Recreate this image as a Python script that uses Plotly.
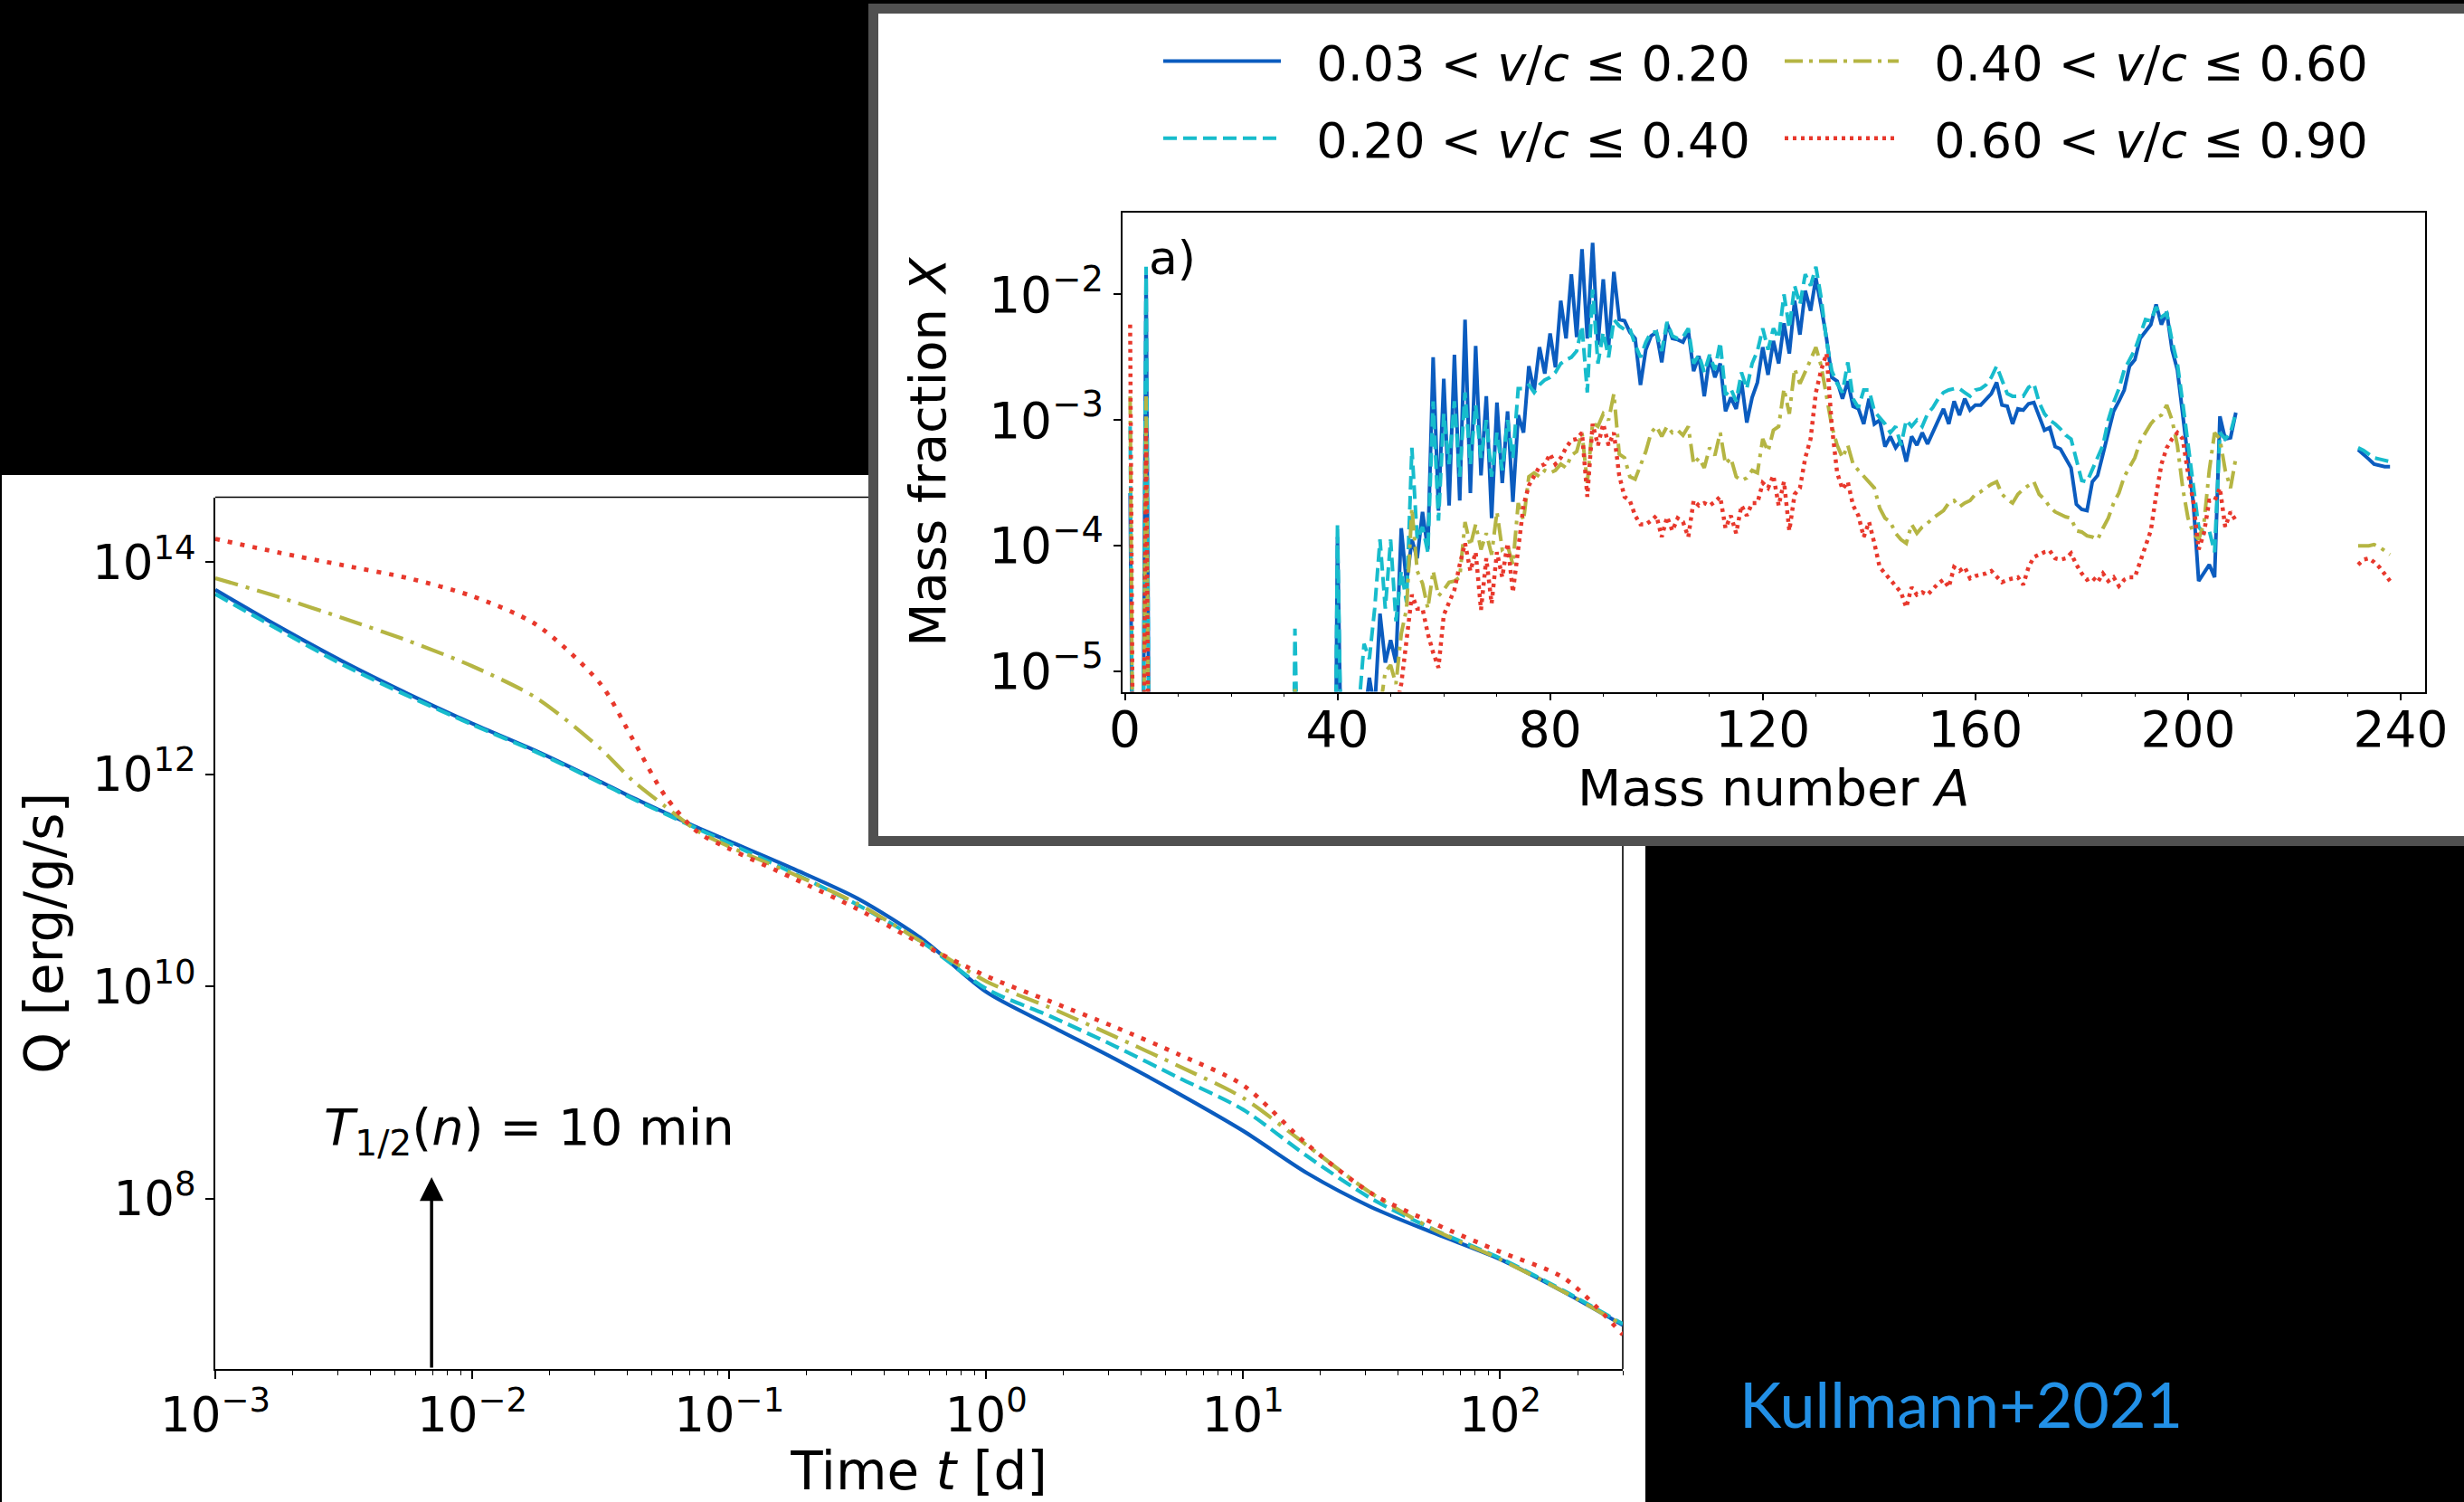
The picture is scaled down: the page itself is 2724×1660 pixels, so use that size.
import math
import plotly.graph_objects as go

W, H = 2724, 1660

# ---------------- lower panel: heating rate Q(t) ----------------
log_t_days = [-3.0, -2.75, -2.5, -2.25, -2.0, -1.75, -1.5, -1.375, -1.25, -1.125, -1.0, -0.75,
              -0.5, -0.25, 0.0, 0.25, 0.5, 0.75, 1.0, 1.25, 1.5, 1.75, 2.0, 2.25, 2.477]
logQ_v003_020 = [13.74, 13.39, 13.06, 12.76, 12.48, 12.22, 11.93, 11.78, 11.64, 11.50, 11.37, 11.11,
                 10.83, 10.45, 9.95, 9.63, 9.32, 8.99, 8.64, 8.24, 7.92, 7.67, 7.43, 7.12, 6.81]
logQ_v020_040 = [13.70, 13.36, 13.03, 12.74, 12.47, 12.21, 11.92, 11.77, 11.63, 11.49, 11.35, 11.07,
                 10.77, 10.42, 9.98, 9.72, 9.44, 9.14, 8.84, 8.40, 8.00, 7.70, 7.44, 7.13, 6.82]
logQ_v040_060 = [13.85, 13.67, 13.47, 13.26, 13.02, 12.72, 12.24, 11.94, 11.70, 11.47, 11.32, 11.06,
                 10.78, 10.42, 10.05, 9.80, 9.53, 9.25, 8.95, 8.50, 8.05, 7.70, 7.43, 7.12, 6.81]
logQ_v060_090 = [14.22, 14.09, 13.97, 13.85, 13.68, 13.41, 12.85, 12.33, 11.80, 11.46, 11.30, 11.02,
                 10.73, 10.40, 10.10, 9.86, 9.62, 9.36, 9.07, 8.51, 8.05, 7.76, 7.50, 7.25, 6.72]

neutron_half_life_min = 10.0
arrow_tip_Q = 1.6e8

# ---------------- upper panel: mass fractions X(A) ----------------
A_main = list(range(1, 210))
A_tail = list(range(232, 239))

logX_v003_020 = [
    -3.58, -9, -9, -1.79, -9, -9, -9, -9, -9, -9,
    -9, -9, -9, -9, -9, -9, -9, -9, -9, -9,
    -9, -9, -9, -9, -9, -9, -9, -9, -9, -9,
    -9, -5.10, -9, -9, -9, -9, -9, -9, -9, -3.93,
    -9, -9, -9, -9, -5.4, -5.05, -5.3, -4.54, -4.93, -4.75,
    -4.93, -3.86, -4.3, -3.95, -4.1, -3.73, -4.03, -2.50, -3.72, -2.67,
    -3.68, -2.48, -3.64, -2.20, -3.58, -2.41, -3.44, -2.81, -3.78, -2.86,
    -3.50, -2.93, -3.65, -2.96, -3.10, -2.57, -2.77, -2.42, -2.63, -2.31,
    -2.58, -2.05, -2.35, -1.84, -2.34, -1.64, -2.35, -1.59, -2.40, -1.88,
    -2.42, -1.82, -2.20, -2.21, -2.30, -2.35, -2.72, -2.44, -2.33, -2.30,
    -2.54, -2.23, -2.35, -2.36, -2.38, -2.29, -2.61, -2.49, -2.81, -2.50,
    -2.66, -2.55, -2.93, -2.82, -2.91, -2.69, -3.02, -2.82, -2.70, -2.42,
    -2.64, -2.37, -2.55, -2.23, -2.47, -2.05, -2.32, -1.97, -2.13, -1.87,
    -2.10, -2.35, -2.66, -2.69, -2.83, -2.69, -2.89, -2.91, -3.03, -2.83,
    -3.03, -3.00, -3.21, -3.13, -3.22, -3.16, -3.33, -3.13, -3.20, -3.10,
    -3.19, -3.10, -3.00, -2.91, -3.03, -2.85, -2.96, -2.83, -2.92, -2.88,
    -2.88, -2.83, -2.79, -2.70, -2.88, -2.89, -3.03, -2.91, -2.92, -2.87,
    -2.86, -2.97, -3.08, -3.06, -3.21, -3.23, -3.30, -3.38, -3.67, -3.71,
    -3.72, -3.49, -3.44, -3.27, -3.10, -2.93, -2.85, -2.76, -2.57, -2.52,
    -2.35, -2.30, -2.24, -2.08, -2.24, -2.14, -2.44, -2.60, -2.96, -3.30,
    -3.66, -4.28, -4.22, -4.15, -4.25, -2.97, -3.15, -3.14, -2.94,
]
logX_v020_040 = [
    -3.05, -9, -9, -1.78, -9, -9, -9, -9, -9, -9,
    -9, -9, -9, -9, -9, -9, -9, -9, -9, -9,
    -9, -9, -9, -9, -9, -9, -9, -9, -9, -9,
    -9, -4.66, -9, -9, -9, -9, -9, -9, -9, -3.83,
    -9, -9, -9, -5.3, -4.78, -4.9, -4.5, -3.95, -4.5, -3.95,
    -4.6, -4.2, -4.45, -3.22, -3.95, -3.85, -4.05, -2.85, -3.8, -2.95,
    -3.35, -2.85, -3.45, -2.78, -3.35, -2.88, -3.30, -3.00, -3.45, -3.10,
    -3.40, -3.00, -3.30, -2.75, -2.75, -2.72, -2.78, -2.72, -2.68, -2.66,
    -2.62, -2.55, -2.52, -2.50, -2.45, -2.25, -2.78, -1.96, -2.55, -2.30,
    -2.50, -2.20, -2.25, -2.28, -2.27, -2.40, -2.50, -2.38, -2.30, -2.30,
    -2.45, -2.22, -2.33, -2.35, -2.34, -2.27, -2.55, -2.48, -2.62, -2.48,
    -2.60, -2.38, -2.80, -2.75, -2.85, -2.62, -2.75, -2.55, -2.45, -2.27,
    -2.44, -2.27, -2.35, -2.00, -2.27, -1.93, -2.08, -1.84, -1.93, -1.78,
    -2.03, -2.37, -2.61, -2.71, -2.78, -2.54, -2.83, -2.90, -2.76, -2.76,
    -2.93, -2.98, -3.03, -3.10, -3.05, -3.20, -3.00, -3.05, -3.00, -3.05,
    -2.95, -2.90, -2.83, -2.78, -2.76, -2.75, -2.75, -2.78, -2.81, -2.76,
    -2.75, -2.72, -2.66, -2.57, -2.68, -2.79, -2.81, -2.81, -2.81, -2.74,
    -2.71, -2.86, -2.95, -3.00, -3.03, -3.07, -3.12, -3.15, -3.32, -3.48,
    -3.49, -3.39, -3.30, -3.20, -3.00, -2.86, -2.75, -2.60, -2.52, -2.44,
    -2.32, -2.20, -2.21, -2.10, -2.18, -2.15, -2.37, -2.55, -2.86, -3.17,
    -3.52, -3.85, -3.90, -3.88, -4.05, -3.10, -3.15, -3.10, -2.94,
]
logX_v040_060 = [
    -2.81, -9, -9, -2.81, -9, -9, -9, -9, -9, -9,
    -9, -9, -9, -9, -9, -9, -9, -9, -9, -9,
    -9, -9, -9, -9, -9, -9, -9, -9, -9, -9,
    -9, -5.14, -9, -9, -9, -9, -9, -9, -9, -9,
    -9, -9, -9, -9, -9, -9, -9, -5.3, -5.0, -4.95,
    -5.1, -4.7, -4.5, -3.70, -4.2, -4.3, -4.5, -4.2, -4.4, -4.35,
    -4.29, -4.28, -4.25, -3.81, -4.00, -3.83, -4.03, -3.90, -4.07, -3.73,
    -4.03, -4.00, -4.15, -3.66, -3.80, -3.45, -3.42, -3.45, -3.40, -3.42,
    -3.40, -3.35, -3.38, -3.28, -3.25, -3.10, -3.50, -3.02, -3.05, -2.95,
    -3.00, -2.79, -3.27, -3.30, -3.45, -3.47, -3.35, -3.25, -3.10, -3.05,
    -3.13, -3.05, -3.10, -3.08, -3.12, -3.05, -3.35, -3.30, -3.38, -3.22,
    -3.28, -3.10, -3.35, -3.30, -3.45, -3.48, -3.46, -3.40, -3.42, -3.15,
    -3.25, -3.08, -3.05, -2.75, -2.95, -2.59, -2.71, -2.62, -2.52, -2.42,
    -2.57, -2.81, -3.05, -3.20, -3.30, -3.20, -3.35, -3.40, -3.45, -3.49,
    -3.54, -3.70, -3.78, -3.81, -3.90, -3.95, -3.98, -3.83, -3.90, -3.85,
    -3.82, -3.78, -3.75, -3.72, -3.66, -3.64, -3.69, -3.66, -3.64, -3.59,
    -3.57, -3.54, -3.51, -3.49, -3.59, -3.63, -3.66, -3.59, -3.55, -3.52,
    -3.49, -3.59, -3.63, -3.69, -3.73, -3.75, -3.77, -3.78, -3.88, -3.89,
    -3.92, -3.93, -3.95, -3.86, -3.78, -3.66, -3.58, -3.45, -3.37, -3.30,
    -3.17, -3.10, -3.03, -2.98, -2.96, -2.88, -3.00, -3.20, -3.54, -3.78,
    -3.90, -3.95, -3.82, -3.40, -3.10, -3.15, -3.40, -3.54, -3.30,
]
logX_v060_090 = [
    -2.24, -9, -9, -3.05, -9, -9, -9, -9, -9, -9,
    -9, -9, -9, -9, -9, -9, -9, -9, -9, -9,
    -9, -9, -9, -9, -9, -9, -9, -9, -9, -9,
    -9, -9, -9, -9, -9, -9, -9, -9, -9, -9,
    -9, -9, -9, -9, -9, -9, -9, -9, -9, -9,
    -5.3, -5.1, -4.75, -4.39, -4.5, -4.5, -4.7, -4.85, -4.97, -4.55,
    -4.45, -4.35, -4.15, -3.98, -4.20, -4.05, -4.51, -4.10, -4.46, -4.05,
    -4.25, -3.98, -4.37, -4.03, -3.68, -3.52, -3.44, -3.37, -3.35, -3.27,
    -3.35, -3.30, -3.22, -3.16, -3.15, -3.10, -3.61, -3.03, -3.20, -3.03,
    -3.20, -3.10, -3.44, -3.61, -3.64, -3.76, -3.83, -3.83, -3.80, -3.76,
    -3.93, -3.77, -3.88, -3.78, -3.81, -3.93, -3.64, -3.68, -3.66, -3.68,
    -3.65, -3.61, -3.86, -3.76, -3.90, -3.68, -3.76, -3.66, -3.66, -3.50,
    -3.54, -3.44, -3.68, -3.49, -3.88, -3.59, -3.54, -3.30, -3.15, -2.78,
    -2.60, -2.47, -3.05, -3.42, -3.55, -3.49, -3.68, -3.76, -3.93, -3.81,
    -3.98, -4.17, -4.22, -4.27, -4.32, -4.37, -4.49, -4.33, -4.39, -4.37,
    -4.39, -4.34, -4.30, -4.27, -4.33, -4.17, -4.20, -4.17, -4.26, -4.24,
    -4.23, -4.22, -4.20, -4.25, -4.29, -4.27, -4.26, -4.25, -4.31, -4.17,
    -4.09, -4.07, -4.05, -4.04, -4.10, -4.11, -4.10, -4.06, -4.15, -4.22,
    -4.27, -4.25, -4.29, -4.22, -4.28, -4.25, -4.32, -4.27, -4.25, -4.25,
    -4.12, -4.00, -3.88, -3.60, -3.35, -3.22, -3.15, -3.10, -3.15, -3.42,
    -3.65, -4.03, -3.90, -3.64, -3.64, -3.54, -3.85, -3.73, -3.80,
]
logX_tail_v003_020 = [-3.235, -3.27, -3.31, -3.35, -3.36, -3.37, -3.37]
logX_tail_v020_040 = [-3.22, -3.24, -3.27, -3.30, -3.31, -3.32, -3.33]
logX_tail_v040_060 = [-4.00, -4.00, -4.00, -3.99, -4.01, -4.04, -4.07]
logX_tail_v060_090 = [-4.15, -4.11, -4.10, -4.13, -4.17, -4.22, -4.28]

series_labels = ["0.03 &lt; <i>v</i>/<i>c</i> ≤ 0.20", "0.20 &lt; <i>v</i>/<i>c</i> ≤ 0.40",
                 "0.40 &lt; <i>v</i>/<i>c</i> ≤ 0.60", "0.60 &lt; <i>v</i>/<i>c</i> ≤ 0.90"]
for s in (logX_v003_020, logX_v020_040, logX_v040_060, logX_v060_090):
    assert len(s) == len(A_main)

# ---------------- styles ----------------
colors = ["#0b5cbf", "#17bccc", "#b5b543", "#e8382c"]
dash_upper = ["solid", "15px,7px", "20px,7px,4px,7px", "4px,5px"]
dash_lower = ["solid", "16px,7px", "26px,9px,4px,9px", "5px,9px"]
width_upper = [4, 4, 4, 4.5]
width_lower = [4.2, 4.2, 4.2, 4.8]
legends = ["legend", "legend", "legend2", "legend2"]
FONT = "DejaVu Sans"

fig = go.Figure()

lower_logQ = [logQ_v003_020, logQ_v020_040, logQ_v040_060, logQ_v060_090]
t_days = [10 ** v for v in log_t_days]
for i in range(4):
    fig.add_trace(go.Scatter(
        x=t_days, y=[10 ** v for v in lower_logQ[i]], mode="lines",
        line=dict(color=colors[i], width=width_lower[i], dash=dash_lower[i], shape="spline", smoothing=0.8),
        showlegend=False, xaxis="x", yaxis="y"))

upper_main = [logX_v003_020, logX_v020_040, logX_v040_060, logX_v060_090]
upper_tail = [logX_tail_v003_020, logX_tail_v020_040, logX_tail_v040_060, logX_tail_v060_090]
A_all = A_main + [None] + A_tail
for i in range(4):
    yvals = [10 ** v for v in upper_main[i]] + [None] + [10 ** v for v in upper_tail[i]]
    fig.add_trace(go.Scatter(
        x=A_all, y=yvals, mode="lines", name="\u00a0\u00a0" + series_labels[i],
        line=dict(color=colors[i], width=width_upper[i], dash=dash_upper[i]),
        legend=legends[i], legendgroup="g%d" % i, legendrank=i,
        xaxis="x2", yaxis="y2"))


def px(x):
    return x / W


def py(y):
    return 1 - y / H


def sup(e):
    return "10<sup>%s</sup>" % (str(e).replace("-", "\u2212"))


lower_minor = [k * 10 ** e for e in range(-3, 3) for k in range(2, 10) if k * 10 ** e <= 300]

axis_common = dict(showgrid=False, zeroline=False, showline=True, linecolor="black", linewidth=1.6,
                   ticks="outside", tickcolor="black", tickwidth=1.6, automargin=False)

t_n = math.log10(neutron_half_life_min / 1440.0)

fig.update_layout(
    width=W, height=H, margin=dict(l=0, r=0, t=0, b=0, autoexpand=False),
    paper_bgcolor="black", plot_bgcolor="rgba(0,0,0,0)",
    font=dict(family=FONT, color="black"),
    xaxis=dict(axis_common, type="log", range=[-3, 2.477], domain=[px(238), px(1794)], anchor="y",
               tickvals=[1e-3, 1e-2, 1e-1, 1, 10, 100], ticktext=[sup(e) for e in range(-3, 3)],
               ticklen=9, tickfont=dict(size=53), ticklabelstandoff=-5,
               minor=dict(ticks="outside", tickvals=lower_minor, ticklen=5, tickwidth=1.2, tickcolor="black"),
               title=dict(text="Time <i>t</i> [d]", font=dict(size=58), standoff=16)),
    yaxis=dict(axis_common, type="log", range=[6.396, 14.613], domain=[py(1513), py(549.5)], anchor="x",
               tickvals=[1e8, 1e10, 1e12, 1e14], ticktext=[sup(e) for e in (8, 10, 12, 14)],
               ticklen=9, tickfont=dict(size=53),
               title=dict(text="Q [erg/g/s]", font=dict(size=58), standoff=14)),
    xaxis2=dict(axis_common, range=[-0.48, 244.6], domain=[px(1240.7), px(2681)], anchor="y2", mirror=True,
                tickvals=[0, 40, 80, 120, 160, 200, 240], ticklen=8, tickfont=dict(size=55),
                ticklabelstandoff=-15,
                minor=dict(ticks="outside", dtick=10, ticklen=4, tickwidth=1.2, tickcolor="black"),
                title=dict(text="Mass number <i>A</i>", font=dict(size=56), standoff=10)),
    yaxis2=dict(axis_common, type="log", range=[-5.162, -1.349], domain=[py(764.6), py(235)], anchor="x2",
                mirror=True, tickvals=[1e-5, 1e-4, 1e-3, 1e-2], ticktext=[sup(e) for e in (-5, -4, -3, -2)],
                ticklen=8, tickfont=dict(size=55),
                title=dict(text="Mass fraction <i>X</i>", font=dict(size=56), standoff=30)),
    legend=dict(x=px(1281), y=py(26), xanchor="left", yanchor="top", bgcolor="rgba(0,0,0,0)",
                font=dict(size=54, family=FONT), itemwidth=130, tracegroupgap=12),
    legend2=dict(x=px(1968), y=py(26), xanchor="left", yanchor="top", bgcolor="rgba(0,0,0,0)",
                 font=dict(size=54, family=FONT), itemwidth=126, tracegroupgap=12),
    shapes=[
        dict(type="rect", xref="paper", yref="paper", x0=px(2), x1=px(1819), y0=0, y1=py(525),
             fillcolor="white", line=dict(width=0), layer="below"),
        dict(type="line", xref="x domain", yref="y domain", x0=0, x1=1, y0=1, y1=1,
             line=dict(color="black", width=1.6), layer="below"),
        dict(type="line", xref="x domain", yref="y domain", x0=1, x1=1, y0=0, y1=1,
             line=dict(color="black", width=1.6), layer="below"),
        dict(type="rect", xref="paper", yref="paper", x0=px(965.5), x1=1.02, y0=py(929.5), y1=py(9.5),
             fillcolor="white", line=dict(color="#505050", width=11), layer="below"),
    ],
    annotations=[
        dict(text="a)", xref="x2 domain", yref="y2 domain", x=0.019, y=0.905, xanchor="left",
             yanchor="middle", showarrow=False, font=dict(size=52)),
        dict(text="<i>T</i><sub>1/2</sub>(<i>n</i>) = 10 min", xref="x", yref="y", x=-2.585, y=8.64,
             xanchor="left", yanchor="middle", showarrow=False, font=dict(size=56)),
        dict(text="", xref="x", yref="y", axref="x", ayref="y",
             x=t_n, y=math.log10(arrow_tip_Q), ax=t_n, ay=6.396,
             showarrow=True, arrowhead=2, arrowsize=1.5, arrowwidth=3.5, arrowcolor="black"),
        dict(text="Kullmann+2021", xref="paper", yref="paper", x=px(2168), y=py(1551), xanchor="center",
             yanchor="middle", showarrow=False, font=dict(family="Lato", size=70, color="#2290e6")),
    ],
)

fig.write_html("out.html")
